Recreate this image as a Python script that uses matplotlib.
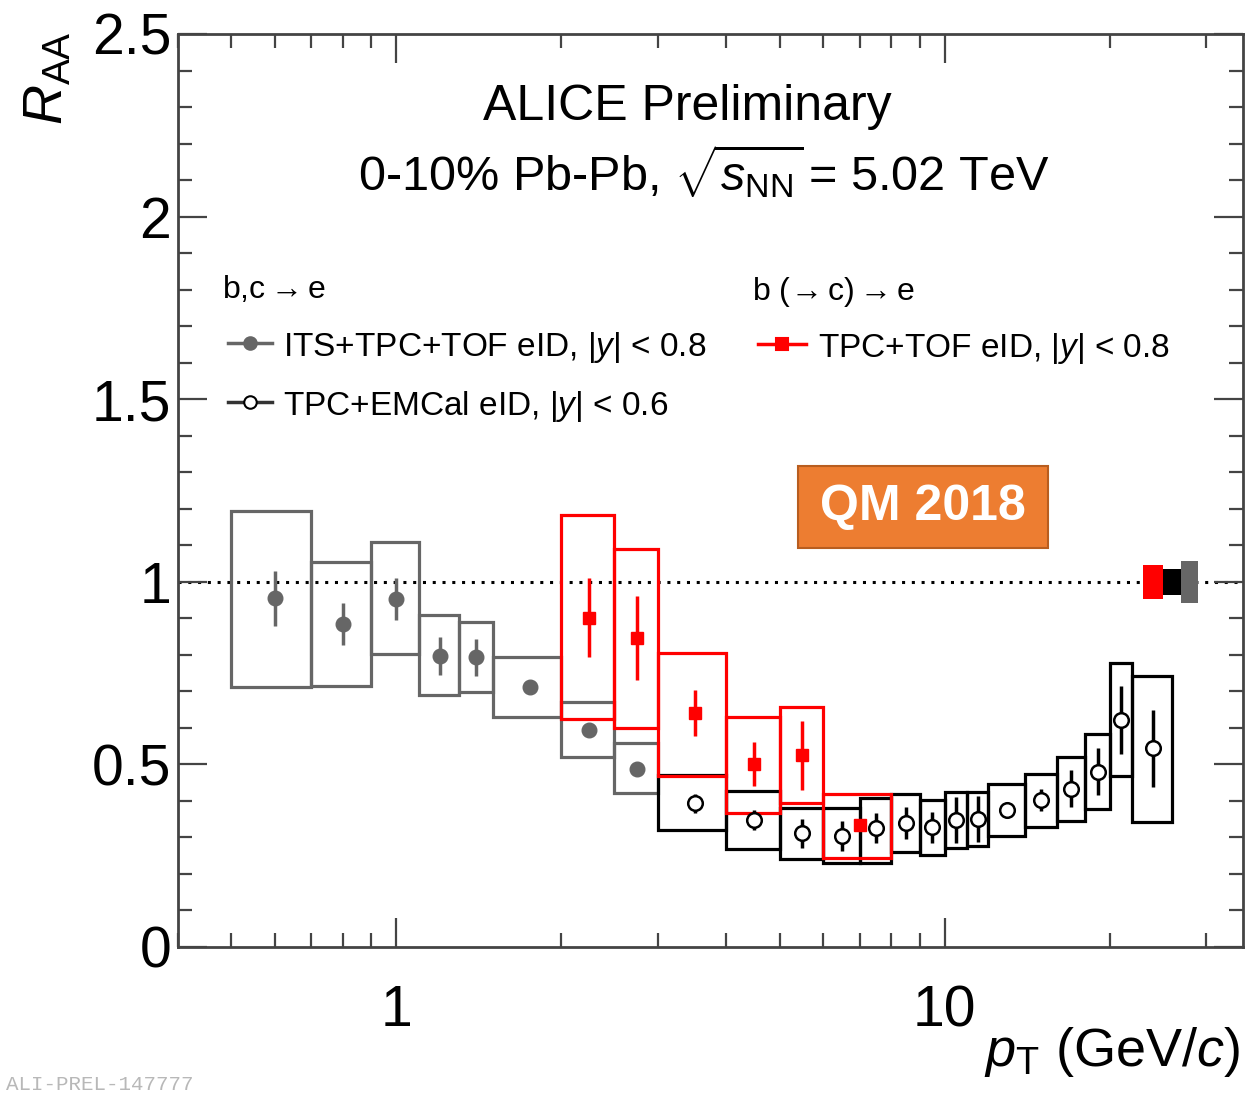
import matplotlib
matplotlib.use("Agg")
import matplotlib.pyplot as plt
from matplotlib.patches import Rectangle
from matplotlib.lines import Line2D
from matplotlib.ticker import FixedLocator, LogLocator, FuncFormatter, MultipleLocator

plt.rcParams['font.family'] = ['Liberation Sans', 'DejaVu Sans']
plt.rcParams['mathtext.fontset'] = 'custom'
plt.rcParams['mathtext.rm'] = 'Liberation Sans'
plt.rcParams['mathtext.it'] = 'Liberation Sans:italic'
plt.rcParams['mathtext.bf'] = 'Liberation Sans:bold'

# b,c -> e, ITS+TPC+TOF eID (filled grey circles)
its_lo = [0.5, 0.7, 0.9, 1.1, 1.3, 1.5, 2.0, 2.5]
its_hi = [0.7, 0.9, 1.1, 1.3, 1.5, 2.0, 2.5, 3.0]
its_pt = [0.6, 0.8, 1.0, 1.2, 1.4, 1.75, 2.25, 2.75]
its_raa = [0.955, 0.884, 0.953, 0.797, 0.793, 0.711, 0.594, 0.488]
its_stat = [0.075, 0.058, 0.058, 0.053, 0.050, 0.0, 0.0, 0.0]
its_sys_top = [1.194, 1.055, 1.109, 0.908, 0.891, 0.795, 0.672, 0.558]
its_sys_bot = [0.713, 0.715, 0.802, 0.690, 0.697, 0.630, 0.521, 0.421]

# b,c -> e, TPC+EMCal eID (open circles)
emc_lo = [3, 4, 5, 6, 7, 8, 9, 10, 11, 12, 14, 16, 18, 20, 22]
emc_hi = [4, 5, 6, 7, 8, 9, 10, 11, 12, 14, 16, 18, 20, 22, 26]
emc_pt = [3.5, 4.5, 5.5, 6.5, 7.5, 8.5, 9.5, 10.5, 11.5, 13, 15, 17, 19, 21, 24]
emc_raa = [0.393, 0.348, 0.311, 0.304, 0.325, 0.339, 0.328, 0.348, 0.350,
           0.375, 0.402, 0.434, 0.480, 0.621, 0.544]
emc_stat = [0.025, 0.028, 0.039, 0.041, 0.041, 0.044, 0.043, 0.063, 0.063,
            0.015, 0.030, 0.050, 0.064, 0.093, 0.105]
emc_sys_top = [0.471, 0.428, 0.380, 0.380, 0.407, 0.418, 0.402, 0.425, 0.425,
               0.445, 0.473, 0.521, 0.582, 0.777, 0.743]
emc_sys_bot = [0.320, 0.268, 0.240, 0.229, 0.229, 0.259, 0.252, 0.270, 0.276,
               0.304, 0.328, 0.346, 0.377, 0.468, 0.343]

# b (-> c) -> e, TPC+TOF eID (red squares)
b_lo = [2.0, 2.5, 3.0, 4.0, 5.0, 6.0]
b_hi = [2.5, 3.0, 4.0, 5.0, 6.0, 8.0]
b_pt = [2.25, 2.75, 3.5, 4.5, 5.5, 7.0]
b_raa = [0.902, 0.847, 0.640, 0.501, 0.525, 0.334]
b_stat = [0.108, 0.115, 0.063, 0.060, 0.095, 0.0]
b_sys_top = [1.183, 1.089, 0.806, 0.629, 0.658, 0.418]
b_sys_bot = [0.623, 0.601, 0.469, 0.368, 0.393, 0.244]

# normalisation uncertainties at R_AA = 1
norm_lo = [23, 25, 27]
norm_hi = [25, 27, 29]
norm_unc = [0.046, 0.036, 0.058]
norm_colors = ['#ff0000', '#000000', '#666666']

GREY = '#666666'
W, H = 1247, 1096
fx = lambda x: x / W
fy = lambda y: 1 - y / H

fig = plt.figure(figsize=(W / 100, H / 100), dpi=100)
ax = fig.add_axes([fx(178), fy(947), fx(1243) - fx(178), fy(34) - fy(947)])
ax.set_xscale('log')
ax.set_xlim(0.4, 35)
ax.set_ylim(0, 2.5)

ax.axhline(1.0, color='black', lw=2.2, ls=(0, (1, 2.2)), zorder=1)


def draw_boxes(lo, hi, bot, top, color):
    for a, b, c, d in zip(lo, hi, bot, top):
        ax.add_patch(Rectangle((a, c), b - a, d - c, fill=False,
                               edgecolor=color, lw=2.3, zorder=2))


draw_boxes(its_lo, its_hi, its_sys_bot, its_sys_top, GREY)
draw_boxes(emc_lo, emc_hi, emc_sys_bot, emc_sys_top, 'black')
draw_boxes(b_lo, b_hi, b_sys_bot, b_sys_top, '#ff0000')

for a, b, u, c in zip(norm_lo, norm_hi, norm_unc, norm_colors):
    ax.add_patch(Rectangle((a, 1 - u), b - a, 2 * u, facecolor=c,
                           edgecolor='none', zorder=3))

ax.errorbar(its_pt, its_raa, yerr=its_stat, fmt='o', color=GREY, ms=10.5,
            elinewidth=2.5, capsize=0, zorder=4)
ax.errorbar(emc_pt, emc_raa, yerr=emc_stat, fmt='o', color='black',
            mfc='white', mec='black', mew=1.8, ms=10.5, elinewidth=2.5,
            capsize=0, zorder=4)
ax.errorbar(b_pt, b_raa, yerr=b_stat, fmt='s', color='#ff0000', ms=9,
            elinewidth=2.5, capsize=0, zorder=5)

# axes styling
for sp in ax.spines.values():
    sp.set_color('#444444')
    sp.set_linewidth(2)
ax.yaxis.set_major_locator(MultipleLocator(0.5))
ax.yaxis.set_minor_locator(MultipleLocator(0.1))
ax.yaxis.set_major_formatter(FuncFormatter(lambda v, p: '%g' % v))
ax.xaxis.set_major_locator(FixedLocator([1, 10]))
ax.xaxis.set_minor_locator(LogLocator(base=10, subs=range(2, 10)))
ax.xaxis.set_major_formatter(FuncFormatter(lambda v, p: '%g' % v))
ax.xaxis.set_minor_formatter(FuncFormatter(lambda v, p: ''))
ax.tick_params(which='both', direction='in', top=True, right=True,
               color='#444444', width=1.6)
ax.tick_params(which='major', length=21, labelsize=41)
ax.tick_params(which='minor', length=10)
ax.tick_params(axis='x', which='major', pad=27)
ax.tick_params(axis='y', which='major', pad=5)

# axis titles
fig.text(fx(48), fy(78), r'$R_{\rm AA}$', rotation=90, ha='center',
         va='center', fontsize=40)
fig.text(fx(1240), fy(1066), r'$p_{\rm T}$ (GeV/$c$)', ha='right',
         va='baseline', fontsize=39)

# header
fig.text(fx(687), fy(120), 'ALICE Preliminary', ha='center', va='baseline',
         fontsize=36)
fig.text(fx(358), fy(190), r'0-10% Pb-Pb, $\sqrt{s_{\rm NN}}\!$ = 5.02 TeV',
         ha='left', va='baseline', fontsize=35)

# legend
fig.text(fx(222), fy(298), r'b,c$\rightarrow$e', ha='left', va='baseline',
         fontsize=23)
fig.text(fx(752), fy(300), r'b ($\!\rightarrow$c)$\rightarrow$e', ha='left',
         va='baseline', fontsize=23)

leg = [
    (228, 272, 343, 'o', GREY, GREY, 283,
     r'ITS+TPC+TOF eID, |$y$| < 0.8'),
    (228, 272, 402, 'o', 'white', 'black', 283,
     r'TPC+EMCal eID, |$y$| < 0.6'),
    (758, 806, 344, 's', '#ff0000', '#ff0000', 818,
     r'TPC+TOF eID, |$y$| < 0.8'),
]
for x0, x1, yy, mk, fc, ec, tx, label in leg:
    fig.add_artist(Line2D([fx(x0), fx(x1)], [fy(yy), fy(yy)],
                          transform=fig.transFigure,
                          color=ec if fc != 'white' else '#333333', lw=2.5))
    fig.add_artist(Line2D([fx((x0 + x1) / 2)], [fy(yy)],
                          transform=fig.transFigure, marker=mk,
                          ms=9 if mk == 'o' else 8,
                          mfc=fc, mec=ec, mew=1.5, ls='none'))
    fig.text(fx(tx), fy(yy + 13), label, ha='left', va='baseline', fontsize=24)

# conference tag
fig.add_artist(Rectangle((fx(798), fy(548)), fx(1048) - fx(798),
                         fy(466) - fy(548), transform=fig.transFigure,
                         facecolor='#ed7d31', edgecolor='#b85d1f', lw=1.5))
fig.text(fx(923), fy(507), 'QM 2018', ha='center', va='center',
         fontsize=36, fontweight='bold', color='white')

# watermark
fig.text(fx(6), fy(1094), 'ALI-PREL-147777', ha='left', va='bottom',
         fontsize=15, family='Liberation Mono', color='#b8b8b8')

fig.savefig('out.png', dpi=100)
